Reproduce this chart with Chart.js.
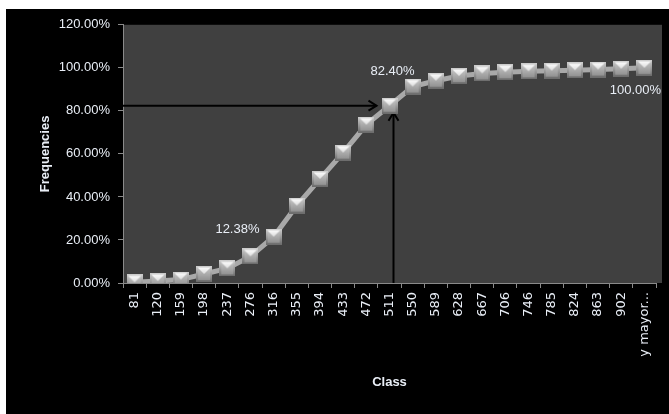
<!DOCTYPE html>
<html>
<head>
<meta charset="utf-8">
<script src="https://cdn.jsdelivr.net/npm/chart.js@4"></script>
<style>
  html, body { margin: 0; padding: 0; background: #ffffff; }
  #frame { position: absolute; left: 6px; top: 9px; width: 663px; height: 405px; background: #000000; }
  canvas { display: block; }
</style>
</head>
<body>
<div id="frame"><canvas id="chart" width="663" height="405"></canvas></div>
<script>
// Class upper limits
const classes = ['81', '120', '159', '198', '237', '276', '316', '355', '394', '433', '472', '511',
                 '550', '589', '628', '667', '706', '746', '785', '824', '863', '902', 'y mayor...'];
// Cumulative relative frequency, in percent
const cumulative = [0.3, 0.9, 1.6, 4.2, 6.8, 12.38, 21.5, 36.0, 48.4, 60.6, 73.6, 82.4,
                    91.3, 94.0, 96.2, 97.4, 98.0, 98.4, 98.7, 98.9, 99.2, 99.6, 100.0];
// Y axis ticks, in percent
const yTicks = [0, 20, 40, 60, 80, 100, 120];
// Points that carry a value label, and where the label sits relative to the point
const labelledPoints = [5, 11, 22];
const labelOffsets = { 5: [-13, -27], 11: [3, -34], 22: [-9, 23] };
const readPoint = 11;

const TEXT = '#e9eef6';
const AXIS = '#8a8a8a';

// Bevelled square marker with a light inverted triangle on top
function makeMarker() {
  const s = 16;
  const m = document.createElement('canvas');
  m.width = s; m.height = s;
  const c = m.getContext('2d');
  let g = c.createLinearGradient(0, 0, 0, s);
  g.addColorStop(0, '#cfcfcf'); g.addColorStop(1, '#6a6a6a');
  c.fillStyle = g; c.fillRect(0, 0, s, s);
  g = c.createLinearGradient(0, 2, 0, s - 2);
  g.addColorStop(0, '#c4c4c4'); g.addColorStop(1, '#929292');
  c.fillStyle = g; c.fillRect(2, 2, s - 4, s - 4);
  g = c.createLinearGradient(0, 1, 0, 8);
  g.addColorStop(0, '#ffffff'); g.addColorStop(1, '#dcdcdc');
  c.fillStyle = g;
  c.beginPath(); c.moveTo(1.5, 1.5); c.lineTo(s - 1.5, 1.5); c.lineTo(s / 2, 8); c.closePath(); c.fill();
  return m;
}

const plotBackground = {
  id: 'plotBackground',
  beforeDraw(chart) {
    const { ctx, chartArea: a } = chart;
    ctx.save();
    ctx.fillStyle = '#404040';
    ctx.fillRect(a.left, a.top, a.right - a.left + 6, a.bottom - a.top);
    ctx.restore();
  }
};

function arrowHead(ctx, x, y, dir) {
  const L = 8, W = 5;
  ctx.beginPath();
  if (dir === 'right') {
    ctx.moveTo(x - L, y - W); ctx.lineTo(x, y); ctx.lineTo(x - L, y + W);
  } else {
    ctx.moveTo(x - W, y + L); ctx.lineTo(x, y); ctx.lineTo(x + W, y + L);
  }
  ctx.stroke();
}

const readArrows = {
  id: 'readArrows',
  beforeDatasetsDraw(chart) {
    const { ctx, chartArea: a, scales } = chart;
    const px = scales.x.getPixelForValue(readPoint);
    const py = scales.y.getPixelForValue(cumulative[readPoint]);
    ctx.save();
    ctx.strokeStyle = '#000000';
    ctx.lineWidth = 2;
    ctx.beginPath(); ctx.moveTo(a.left, py); ctx.lineTo(px - 13, py); ctx.stroke();
    arrowHead(ctx, px - 13, py, 'right');
    ctx.beginPath(); ctx.moveTo(px + 4, a.bottom); ctx.lineTo(px + 4, py + 7); ctx.stroke();
    arrowHead(ctx, px + 4, py + 7, 'up');
    ctx.restore();
  }
};

const valueLabels = {
  id: 'valueLabels',
  afterDatasetsDraw(chart) {
    const { ctx, scales } = chart;
    ctx.save();
    ctx.font = '13px "Liberation Sans", Arial, sans-serif';
    ctx.fillStyle = TEXT;
    ctx.textAlign = 'center';
    ctx.textBaseline = 'middle';
    labelledPoints.forEach(i => {
      const x = scales.x.getPixelForValue(i) + labelOffsets[i][0];
      const y = scales.y.getPixelForValue(cumulative[i]) + labelOffsets[i][1];
      ctx.fillText(cumulative[i].toFixed(2) + '%', x, y);
    });
    ctx.restore();
  }
};

new Chart(document.getElementById('chart'), {
  type: 'line',
  data: {
    labels: classes,
    datasets: [{
      data: cumulative,
      borderColor: '#a9a9a9',
      borderWidth: 5,
      tension: 0,
      pointStyle: makeMarker(),
      pointRadius: 8,
      pointHoverRadius: 8
    }]
  },
  options: {
    responsive: false,
    animation: false,
    events: [],
    layout: { padding: { left: 28, top: 14, right: 6, bottom: 20 } },
    plugins: { legend: { display: false }, tooltip: { enabled: false } },
    scales: {
      x: {
        offset: true,
        afterFit(scale) { scale.height = 111; },
        grid: { display: true, offset: true, drawOnChartArea: false, drawTicks: true, tickLength: 5, tickColor: AXIS },
        border: { color: AXIS, width: 1 },
        ticks: {
          color: TEXT, minRotation: 90, maxRotation: 90, autoSkip: false, padding: 4,
          font: { family: '"DejaVu Sans", sans-serif', size: 13 }
        },
        title: {
          display: true, text: 'Class', color: TEXT,
          font: { family: '"Liberation Sans", Arial, sans-serif', size: 13, weight: 'bold' }
        }
      },
      y: {
        min: yTicks[0],
        max: yTicks[yTicks.length - 1],
        afterFit(scale) { scale.width = 89; },
        afterBuildTicks(scale) { scale.ticks = yTicks.map(v => ({ value: v })); },
        grid: { display: true, drawOnChartArea: false, drawTicks: true, tickLength: 5, tickColor: AXIS },
        border: { color: AXIS, width: 1 },
        ticks: {
          color: TEXT, padding: 8,
          font: { family: '"Liberation Sans", Arial, sans-serif', size: 13 },
          callback: v => Number(v).toFixed(2) + '%'
        },
        title: {
          display: true, text: 'Frequencies', color: TEXT,
          font: { family: '"Liberation Sans", Arial, sans-serif', size: 13, weight: 'bold' }
        }
      }
    }
  },
  plugins: [plotBackground, readArrows, valueLabels]
});
</script>
</body>
</html>
